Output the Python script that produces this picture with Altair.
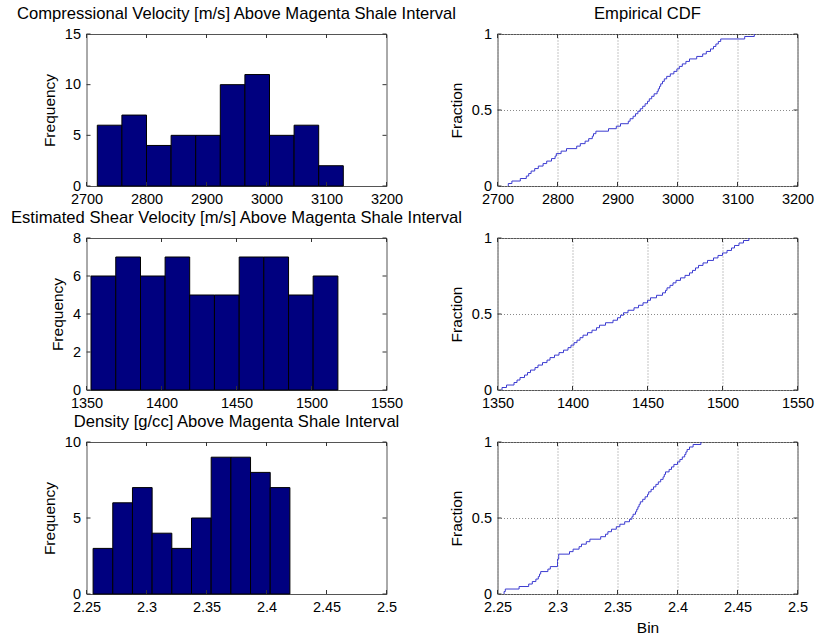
import altair as alt
import pandas as pd

# ---------------- data ----------------
vp_edges = [2718, 2759, 2800, 2841, 2882, 2923, 2964, 3005, 3046, 3087, 3128]
vp_counts = [6, 7, 4, 5, 5, 10, 11, 5, 6, 2]
vp_samples = [2718, 2724, 2738, 2748, 2752, 2756,
              2762, 2768, 2776, 2782, 2790, 2796, 2798,
              2806, 2815, 2832, 2838,
              2846, 2852, 2858, 2860, 2864,
              2885, 2898, 2905, 2918, 2921,
              2926, 2930, 2934, 2938, 2942, 2946, 2950, 2953, 2957, 2961,
              2966, 2968, 2970, 2972, 2975, 2978, 2982, 2988, 2994, 2999, 3003,
              3008, 3014, 3020, 3032, 3042,
              3048, 3055, 3060, 3064, 3068, 3072,
              3112, 3128]

vs_edges = [1353, 1369.5, 1386, 1402.4, 1418.8, 1435.3, 1451.8, 1468.2, 1484.7, 1501.1, 1517.6]
vs_counts = [6, 7, 6, 7, 5, 5, 7, 7, 5, 6]
vs_samples = [1353, 1356, 1361, 1363, 1365, 1368,
              1370, 1372, 1375, 1377, 1380, 1383, 1385,
              1388, 1391, 1394, 1397, 1399, 1401,
              1403, 1405, 1407, 1410, 1413, 1416, 1418,
              1422, 1427, 1430, 1432, 1434,
              1437, 1441, 1444, 1447, 1450,
              1452, 1456, 1460, 1462, 1463, 1465, 1467,
              1469, 1472, 1475, 1478, 1480, 1482, 1484,
              1487, 1490, 1494, 1497, 1500,
              1503, 1506, 1508, 1511, 1514, 1517.6]

rho_edges = [2.2555, 2.2719, 2.2883, 2.3047, 2.3211, 2.3375, 2.3539, 2.3703, 2.3867, 2.4031, 2.4195]
rho_counts = [3, 6, 7, 4, 3, 5, 9, 9, 8, 7]
rho_samples = [2.2555, 2.2565, 2.268,
               2.276, 2.279, 2.282, 2.284, 2.285, 2.286,
               2.292, 2.294, 2.300, 2.300, 2.300, 2.301, 2.301,
               2.310, 2.313, 2.318, 2.320,
               2.324, 2.327, 2.336,
               2.340, 2.342, 2.345, 2.349, 2.352,
               2.356, 2.360, 2.362, 2.363, 2.365, 2.366, 2.367, 2.368, 2.369,
               2.371, 2.373, 2.375, 2.376, 2.378, 2.380, 2.382, 2.384, 2.386,
               2.388, 2.389, 2.390, 2.393, 2.395, 2.397, 2.400, 2.402,
               2.404, 2.406, 2.407, 2.408, 2.410, 2.413, 2.4195]

titles = ["Compressional Velocity [m/s] Above Magenta Shale Interval",
          "Estimated Shear Velocity [m/s] Above Magenta Shale Interval",
          "Density [g/cc] Above Magenta Shale Interval"]

vp_xticks = [2700, 2800, 2900, 3000, 3100, 3200]
vs_xticks = [1350, 1400, 1450, 1500, 1550]
rho_xticks = [2.25, 2.3, 2.35, 2.4, 2.45, 2.5]
vp_yticks = [0, 5, 10, 15]
vs_yticks = [0, 2, 4, 6, 8]
rho_yticks = [0, 5, 10]
cdf_yticks = [0, 0.5, 1]

# ---------------- styling ----------------
W, H = 300, 152
FONT = "Liberation Sans"
BAR_FILL = "#00007f"
LINE_COLOR = "#3b3bd0"
TICK_LEN = 4


def tick_layers(xsc, ysc, xticks, yticks, xaxis, yaxis):
    xs = pd.DataFrame({"v": xticks})
    ys = pd.DataFrame({"v": yticks})
    bx = alt.Chart(xs).mark_rule(color="#333333", strokeWidth=1)
    by = alt.Chart(ys).mark_rule(color="#333333", strokeWidth=1)
    xenc = alt.X("v:Q", scale=xsc, axis=xaxis)
    yenc = alt.Y("v:Q", scale=ysc, axis=yaxis)
    return [
        bx.encode(x=xenc, y=alt.value(H), y2=alt.value(H - TICK_LEN)),
        bx.encode(x=xenc, y=alt.value(0), y2=alt.value(TICK_LEN)),
        by.encode(y=yenc, x=alt.value(0), x2=alt.value(TICK_LEN)),
        by.encode(y=yenc, x=alt.value(W), x2=alt.value(W - TICK_LEN)),
    ]


def title_params(text):
    return alt.TitleParams(text, font=FONT, fontSize=16.6, fontWeight="normal",
                           color="black", anchor="middle", frame="group", offset=3)


def hist_panel(title, edges, counts, xticks, yticks, xfmt):
    df = pd.DataFrame({"lo": edges[:-1], "hi": edges[1:], "n": counts})
    xsc = alt.Scale(domain=[xticks[0], xticks[-1]], nice=False, zero=False)
    ysc = alt.Scale(domain=[yticks[0], yticks[-1]], nice=False, zero=False)
    xaxis = alt.Axis(values=xticks, format=xfmt, title=None, grid=False)
    yaxis = alt.Axis(values=yticks, format="d", title="Frequency", grid=False)
    bars = alt.Chart(df).mark_rect(fill=BAR_FILL, stroke="black", strokeWidth=1).encode(
        x=alt.X("lo:Q", scale=xsc, axis=xaxis),
        x2="hi:Q",
        y=alt.Y("n:Q", scale=ysc, axis=yaxis),
        y2=alt.value(H),
    )
    return alt.layer(bars, *tick_layers(xsc, ysc, xticks, yticks, xaxis, yaxis)).properties(
        width=W, height=H, title=title_params(title))


def cdf_panel(samples, xticks, xfmt, title=None, xtitle=None):
    xs = [samples[0]] + list(samples)
    ys = [0.0] + [(i + 1) / len(samples) for i in range(len(samples))]
    df = pd.DataFrame({"x": xs, "f": ys, "i": list(range(len(xs)))})
    xsc = alt.Scale(domain=[xticks[0], xticks[-1]], nice=False, zero=False)
    ysc = alt.Scale(domain=[0, 1], nice=False, zero=False)
    grid = dict(grid=True, gridDash=[1, 2], gridColor="#8a8a8a", gridOpacity=1, gridWidth=1)
    xaxis = alt.Axis(values=xticks, format=xfmt, title=xtitle, **grid)
    yaxis = alt.Axis(values=cdf_yticks, format=".1~f", title="Fraction", **grid)
    line = alt.Chart(df).mark_line(color=LINE_COLOR, strokeWidth=1, interpolate="step-after").encode(
        x=alt.X("x:Q", scale=xsc, axis=xaxis),
        y=alt.Y("f:Q", scale=ysc, axis=yaxis),
        order="i:Q",
    )
    props = dict(width=W, height=H)
    if title:
        props["title"] = title_params(title)
    return alt.layer(line, *tick_layers(xsc, ysc, xticks, cdf_yticks, xaxis, yaxis)).properties(**props)


h1 = hist_panel(titles[0], vp_edges, vp_counts, vp_xticks, vp_yticks, "d")
h2 = hist_panel(titles[1], vs_edges, vs_counts, vs_xticks, vs_yticks, "d")
h3 = hist_panel(titles[2], rho_edges, rho_counts, rho_xticks, rho_yticks, ".2~f")
c1 = cdf_panel(vp_samples, vp_xticks, "d", title="Empirical CDF")
c2 = cdf_panel(vs_samples, vs_xticks, "d")
c3 = cdf_panel(rho_samples, rho_xticks, ".2~f", xtitle="Bin")

chart = alt.concat(h1, c1, h2, c2, h3, c3, columns=2,
                   spacing={"row": 52, "column": 111}, bounds="flush").properties(
    padding={"left": 9.5, "top": 5, "right": 0, "bottom": 0},
    background="white",
).configure_view(
    stroke="#555555", strokeWidth=1
).configure_axis(
    labelFont=FONT, labelFontSize=14.5, labelColor="black",
    titleFont=FONT, titleFontSize=15.5, titleFontWeight="normal", titleColor="black",
    ticks=False, domain=False, labelFlush=False, labelOverlap=False,
    labelPadding=6, titlePadding=7,
)

chart.save("out.html", embed_options={"renderer": "svg", "actions": False})
